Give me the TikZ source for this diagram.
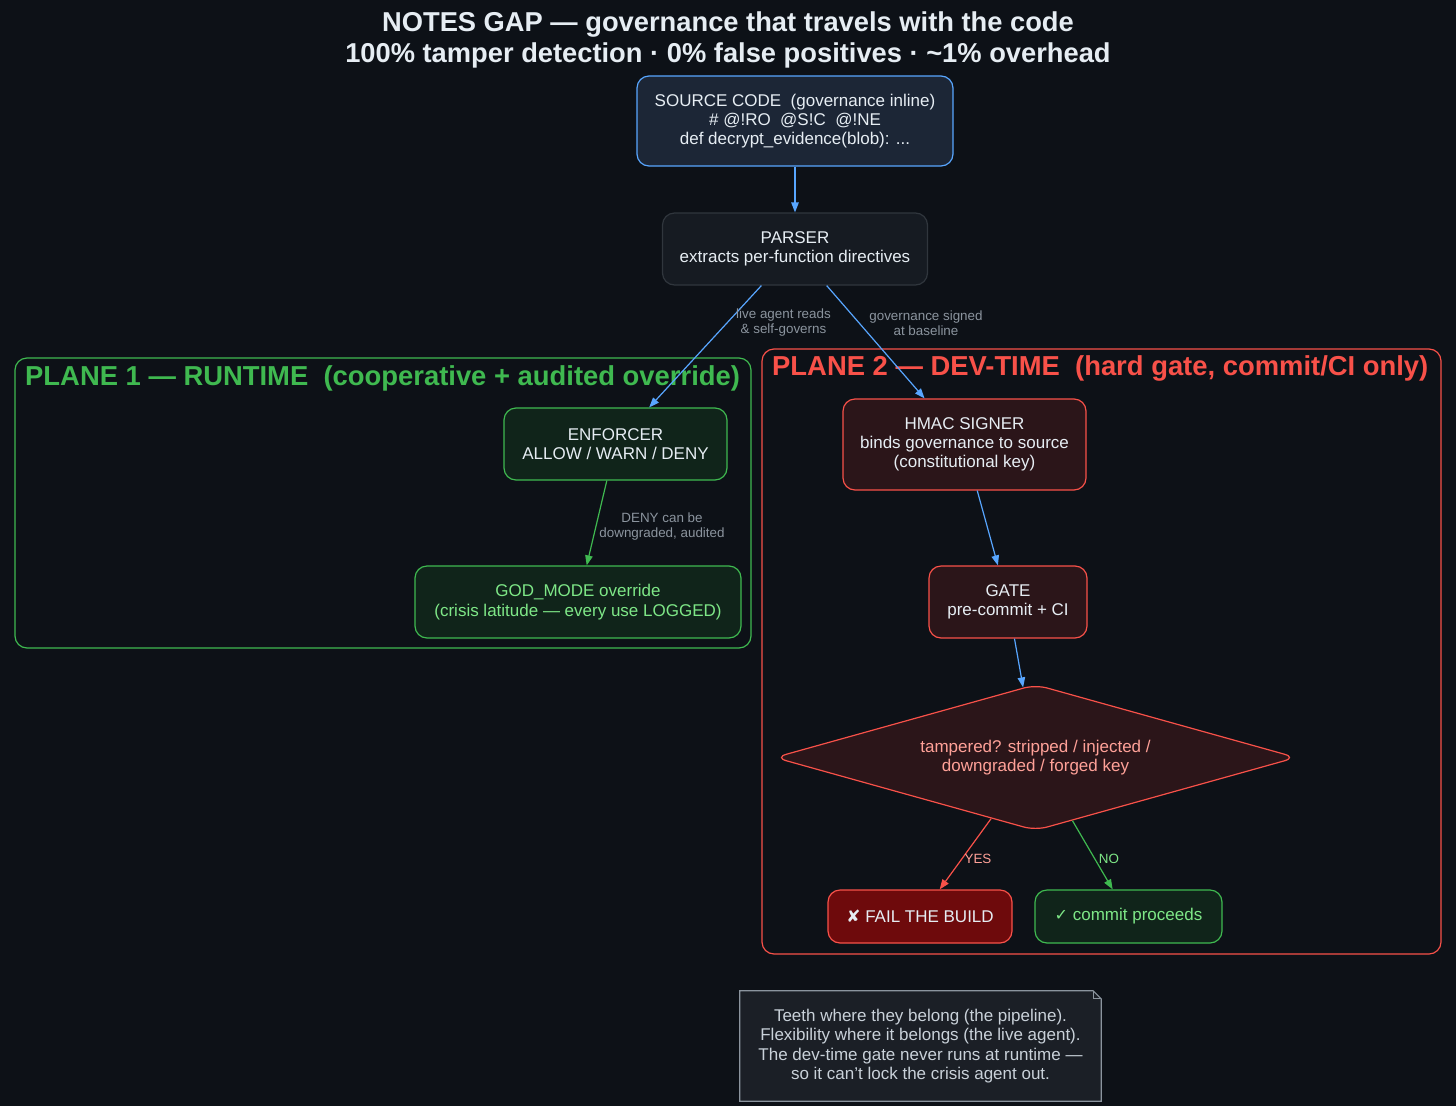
\documentclass[tikz,border=0pt]{standalone}
\usepackage{fontspec}
\setmainfont{Liberation Sans}
\newfontfamily\symfont{DejaVu Sans}
\usetikzlibrary{shapes.geometric,arrows.meta}
\definecolor{bg}{HTML}{0D1117}
\definecolor{titlec}{HTML}{E6EDF3}
\definecolor{blueE}{HTML}{58A6FF}
\definecolor{srcfill}{HTML}{1C2636}
\definecolor{parfill}{HTML}{161B22}
\definecolor{parline}{HTML}{30363D}
\definecolor{greenE}{HTML}{3FB950}
\definecolor{greenfill}{HTML}{10241A}
\definecolor{greentext}{HTML}{7EE787}
\definecolor{redE}{HTML}{F85149}
\definecolor{redfill}{HTML}{2B1519}
\definecolor{salmon}{HTML}{FFA198}
\definecolor{failfill}{HTML}{6E0A0C}
\definecolor{notefill}{HTML}{1B1F26}
\definecolor{noteline}{HTML}{8B949E}
\definecolor{notetext}{HTML}{C9D1D9}
\definecolor{lblgray}{HTML}{8B949E}
\tikzset{
  nodefont/.style={font=\fontsize{17}{19.3}\selectfont},
  box/.style={nodefont, rounded corners=12pt, line width=1.2pt, align=center, inner sep=0pt, anchor=center},
  srcbox/.style={box, draw=blueE, fill=srcfill, text=titlec},
  parbox/.style={box, draw=parline, fill=parfill, text=titlec},
  grnbox/.style={box, draw=greenE, fill=greenfill, text=titlec},
  grnbox2/.style={box, draw=greenE, fill=greenfill, text=greentext},
  redbox/.style={box, draw=redE, fill=redfill, text=titlec},
  failbox/.style={box, draw=redE, fill=failfill, text=titlec},
  lbl/.style={font=\fontsize{13.4}{15}\selectfont, text=lblgray, align=center, inner sep=0pt},
  edge/.style={line width=1.2pt, -{Triangle[length=10pt,width=7.5pt]}},
  cluster/.style={rounded corners=12pt, line width=1.2pt},
  planelbl/.style={font=\fontsize{27.4}{30}\selectfont\bfseries, anchor=west, inner sep=0pt},
}
\begin{document}
\begin{tikzpicture}[x=1pt,y=-1pt]
\useasboundingbox (0,0) rectangle (1456,1106);
\fill[bg] (0,0) rectangle (1456,1106);

% title
\node[font=\fontsize{27.3}{31}\selectfont\bfseries, text=titlec, align=center, inner sep=0pt] (title) at (728,40)
  {NOTES GAP — governance that travels with the code\\100\% tamper detection · 0\% false positives · \textasciitilde1\% overhead};

% clusters
\draw[cluster, draw=greenE] (15,358) rectangle (751,648);
\node[planelbl, text=greenE] (p1lbl) at (25,378) {PLANE 1 — RUNTIME\ \ (cooperative + audited override)};
\draw[cluster, draw=redE] (762,349) rectangle (1441,954);
\node[planelbl, text=redE] (p2lbl) at (772,368) {PLANE 2 — DEV-TIME\ \ (hard gate, commit/CI only)};

% nodes
\node[srcbox, minimum width=316pt, minimum height=90pt] (src) at (795,121)
  {SOURCE CODE\ \ (governance inline)\\\# @!RO\ \ @S!C\ \ @!NE\\def decrypt\_evidence(blob): ...};
\node[parbox, minimum width=265pt, minimum height=72pt] (par) at (795,249)
  {PARSER\\extracts per-function directives};
\node[grnbox, minimum width=223pt, minimum height=72pt] (enf) at (615.5,444)
  {ENFORCER\\ALLOW / WARN / DENY};
\node[grnbox2, minimum width=326pt, minimum height=72pt] (god) at (578,602)
  {GOD\_MODE override\\(crisis latitude — every use LOGGED)};
\node[redbox, minimum width=243pt, minimum height=91pt] (hmac) at (964.5,444.5)
  {HMAC SIGNER\\binds governance to source\\(constitutional key)};
\node[redbox, minimum width=158pt, minimum height=72pt] (gate) at (1008,602)
  {GATE\\pre-commit + CI};
\node[diamond, aspect=3.64, draw=redE, fill=redfill, line width=1.2pt, rounded corners=12pt, minimum width=522pt, minimum height=146pt, inner sep=0pt, text=salmon, nodefont, align=center] (dia) at (1035.5,757.5)
  {tampered? stripped / injected /\\downgraded / forged key};
\node[failbox, minimum width=184pt, minimum height=53pt] (fail) at (920,916.5)
  {{\symfont\fontsize{17}{19}\selectfont ✘} FAIL THE BUILD};
\node[grnbox2, minimum width=187pt, minimum height=53pt] (ok) at (1128.5,916.5)
  {{\symfont\fontsize{16}{18}\selectfont ✓} commit proceeds};

% note
\node[minimum width=361pt, minimum height=110pt, inner sep=0pt] (notebg) at (920.5,1046) {};
\fill[notefill] (notebg.south west) -- (notebg.north west) -- ([xshift=-8pt]notebg.north east) -- ([yshift=-8pt]notebg.north east) -- (notebg.south east) -- cycle;
\draw[noteline, line width=1.2pt] (notebg.south west) -- (notebg.north west) -- ([xshift=-8pt]notebg.north east) -- ([yshift=-8pt]notebg.north east) -- (notebg.south east) -- cycle;
\draw[noteline, line width=1pt] ([xshift=-8pt]notebg.north east) |- ([yshift=-8pt]notebg.north east);
\node[nodefont, text=notetext, align=center, inner sep=0pt] (note) at (notebg.center)
  {Teeth where they belong (the pipeline).\\Flexibility where it belongs (the live agent).\\The dev-time gate never runs at runtime —\\so it can't lock the crisis agent out.};

% edges
\draw[edge, blueE] (src) -- (par);
\draw[edge, blueE] (par) -- (enf);
\draw[edge, blueE] (par) -- (hmac);
\draw[edge, greenE] (enf) -- (god);
\draw[edge, blueE] (hmac) -- (gate);
\draw[edge, blueE] (gate) -- (dia);
\draw[edge, redE] (dia) -- (fail);
\draw[edge, greenE] (dia) -- (ok);

% edge labels
\node[lbl] (l1) at (783.5,323) {live agent reads\\\& self-governs};
\node[lbl] (l2) at (926,323) {governance signed\\at baseline};
\node[lbl] (l3) at (662,527) {DENY can be\\downgraded, audited};
\node[lbl, text=salmon] (l4) at (978,859) {YES};
\node[lbl, text=greentext] (l5) at (1109,859) {NO};
\end{tikzpicture}
\end{document}
